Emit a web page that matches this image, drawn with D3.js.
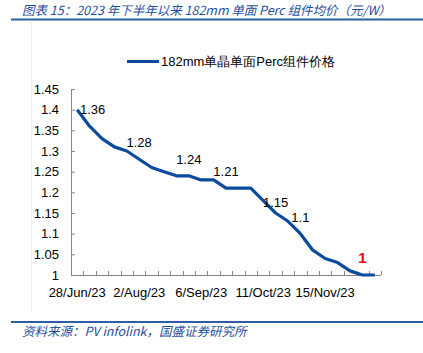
<!DOCTYPE html>
<html><head><meta charset="utf-8">
<script src="https://cdn.jsdelivr.net/npm/d3@7"></script>
<style>body{margin:0;background:#fff}svg{display:block}</style>
</head><body>
<script>
const title = "图表 15：2023 年下半年以来 182mm 单面 Perc 组件均价（元/W）";
const source = "资料来源：PV infolink，国盛证券研究所";
const seriesName = "182mm单晶单面Perc组件价格";
const dates = ["28/Jun/23","5/Jul/23","12/Jul/23","19/Jul/23","26/Jul/23","2/Aug/23","9/Aug/23","16/Aug/23","23/Aug/23","30/Aug/23","6/Sep/23","13/Sep/23","20/Sep/23","27/Sep/23","4/Oct/23","11/Oct/23","18/Oct/23","25/Oct/23","1/Nov/23","8/Nov/23","15/Nov/23","22/Nov/23","29/Nov/23","6/Dec/23","13/Dec/23"];
const prices = [1.40,1.36,1.33,1.31,1.30,1.28,1.26,1.25,1.24,1.24,1.23,1.23,1.21,1.21,1.21,1.18,1.15,1.13,1.10,1.06,1.04,1.03,1.01,1.00,1.00];
const xTickLabels = ["28/Jun/23","2/Aug/23","6/Sep/23","11/Oct/23","15/Nov/23"];
const yTicks = [1,1.05,1.1,1.15,1.2,1.25,1.3,1.35,1.4,1.45];
const labelIdx = [1,5,9,12,16,18,23];
const labelText = ["1.36","1.28","1.24","1.21","1.15","1.1","1"];

const W = 423, H = 353;
const svg = d3.select("body").append("svg").attr("width", W).attr("height", H);
const blue = "#1f4e9c";

svg.append("text").attr("x", 22).attr("y", 14.5).attr("fill", blue)
  .attr("font-family", "'Noto Sans CJK SC', sans-serif").attr("font-size", 12.5)
  .attr("font-style", "italic").text(title);
svg.append("line").attr("x1", 11).attr("x2", 423).attr("y1", 19.5).attr("y2", 19.5)
  .attr("stroke", "#2f5ca8").attr("stroke-width", 2);
svg.append("line").attr("x1", 11).attr("x2", 423).attr("y1", 322).attr("y2", 322)
  .attr("stroke", "#2f5ca8").attr("stroke-width", 2);
svg.append("line").attr("x1", 31.5).attr("x2", 31.5).attr("y1", 22).attr("y2", 312)
  .attr("stroke", "#ececec").attr("stroke-width", 1);
svg.append("text").attr("x", 22).attr("y", 336).attr("fill", blue)
  .attr("font-family", "'Noto Sans CJK SC', sans-serif").attr("font-size", 12.5)
  .attr("font-style", "italic").text(source);

const x = d3.scaleBand().domain(dates).range([71, 381]).padding(0);
const y = d3.scaleLinear().domain([1, 1.45]).range([275, 89]);
const lineColor = "#0b4a9c";
const font = "'Liberation Sans', Arial, sans-serif";

// legend
svg.append("line").attr("x1", 127).attr("x2", 159).attr("y1", 61.5).attr("y2", 61.5)
  .attr("stroke", lineColor).attr("stroke-width", 3);
svg.append("text").attr("x", 161).attr("y", 66).attr("font-family", font)
  .attr("font-size", 13).attr("fill", "#000").text(seriesName);

// y axis
const yAxis = svg.append("g").attr("transform", "translate(71,0)")
  .call(d3.axisRight(y).tickValues(yTicks).tickSize(4).tickFormat(""));
yAxis.select(".domain").attr("stroke", "#868686");
yAxis.selectAll(".tick line").attr("stroke", "#868686");
svg.append("g").selectAll("text").data(yTicks).join("text")
  .attr("x", 59).attr("y", d => y(d)).attr("dy", "0.35em").attr("text-anchor", "end")
  .attr("font-family", font).attr("font-size", 13).attr("fill", "#000")
  .text(d => d3.format("")(+d.toFixed(2)));

// x axis with ticks at category boundaries
const bounds = dates.map(d => x(d)).concat([x.range()[1]]);
const xg = svg.append("g");
xg.append("line").attr("x1", 71).attr("x2", 381).attr("y1", 275.5).attr("y2", 275.5)
  .attr("stroke", "#868686");
xg.selectAll("line.t").data(bounds).join("line").attr("class", "t")
  .attr("x1", d => Math.round(d) + 0.5).attr("x2", d => Math.round(d) + 0.5)
  .attr("y1", 275).attr("y2", 271).attr("stroke", "#868686");
svg.append("g").selectAll("text").data(xTickLabels).join("text")
  .attr("x", d => x(d) + x.bandwidth() / 2).attr("y", 297).attr("text-anchor", "middle")
  .attr("font-family", font).attr("font-size", 13).attr("fill", "#000").text(d => d);

// line
const line = d3.line().x((d, i) => x(dates[i]) + x.bandwidth() / 2).y(d => y(d));
svg.append("path").datum(prices).attr("d", line).attr("fill", "none")
  .attr("stroke", lineColor).attr("stroke-width", 3.2).attr("stroke-linejoin", "round");

// data labels
svg.append("g").selectAll("text").data(labelIdx).join("text")
  .attr("x", i => x(dates[i]) + x.bandwidth() / 2 + (i === 1 ? 3 : 0))
  .attr("y", (i, k) => y(prices[i]) - (labelText[k] === "1.15" ? 6 : 12))
  .attr("text-anchor", "middle").attr("font-family", font)
  .attr("font-size", (i, k) => labelText[k] === "1" ? 15 : 13)
  .attr("font-weight", (i, k) => labelText[k] === "1" ? "bold" : "normal")
  .attr("fill", (i, k) => labelText[k] === "1" ? "#ff0000" : "#000")
  .text((i, k) => labelText[k]);
</script>
</body></html>
